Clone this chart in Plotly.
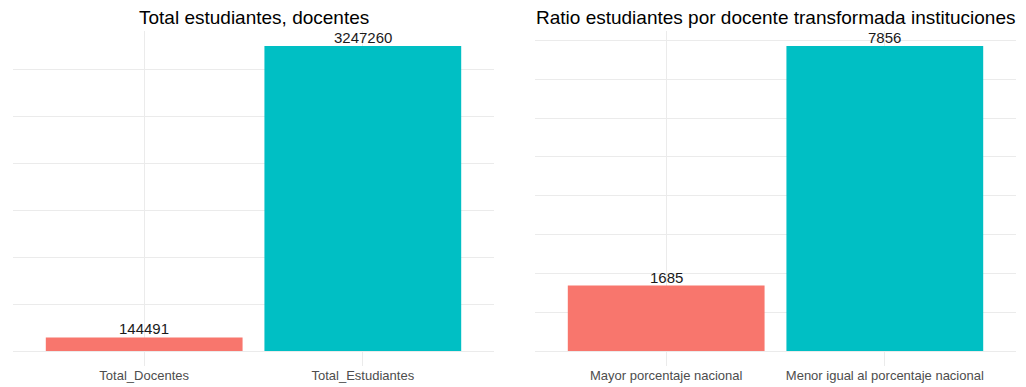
import plotly.graph_objects as go
from plotly.subplots import make_subplots

# Panel 1: totals
totales_cat = ["Total_Docentes", "Total_Estudiantes"]
totales_val = [144491, 3247260]

# Panel 2: ratio by group
ratio_cat = ["Mayor porcentaje nacional", "Menor igual al porcentaje nacional"]
ratio_val = [1685, 7856]

titulos = ["Total estudiantes, docentes",
           "Ratio estudiantes por docente transformada instituciones"]

colores = ["#F8766D", "#00BFC4"]
grid = "#EBEBEB"
FONT = "Liberation Sans, Arial, sans-serif"

fig = make_subplots(rows=1, cols=2)

for col, (cats, vals) in enumerate([(totales_cat, totales_val), (ratio_cat, ratio_val)], start=1):
    fig.add_trace(go.Bar(
        x=cats, y=vals, width=0.9,
        marker=dict(color=colores, line=dict(width=0)),
        showlegend=False,
    ), row=1, col=col)
    # value labels sitting just above each bar
    for c, v in zip(cats, vals):
        fig.add_annotation(x=c, y=v, text=str(v), showarrow=False,
                           xanchor="center", yanchor="bottom", yshift=-2,
                           font=dict(size=15, color="#1a1a1a", family=FONT),
                           row=1, col=col)

W, H = 1026, 387
def px_x(a, b):
    return [a / W, b / W]
def px_y(top, bottom):
    return [1 - bottom / H, 1 - top / H]

ydom = px_y(30.75, 366.25)
fig.update_layout(
    width=W, height=H,
    margin=dict(l=0, r=0, t=0, b=0),
    paper_bgcolor="white", plot_bgcolor="white",
    bargap=0.1,
    font=dict(family=FONT),
    xaxis=dict(domain=px_x(13, 494), range=[-0.6, 1.6]),
    xaxis2=dict(domain=px_x(535, 1016), range=[-0.6, 1.6]),
    yaxis=dict(domain=ydom, range=[-0.05 * max(totales_val), 1.05 * max(totales_val)], dtick=500000),
    yaxis2=dict(domain=ydom, range=[-0.05 * max(ratio_val), 1.05 * max(ratio_val)], dtick=1000),
)

for ax in ["xaxis", "xaxis2"]:
    fig.layout[ax].update(showgrid=True, gridcolor=grid, gridwidth=1, zeroline=False,
                          showline=False, ticks="", tickfont=dict(size=13, color="#4D4D4D"))
for ax in ["yaxis", "yaxis2"]:
    fig.layout[ax].update(showgrid=True, gridcolor=grid, gridwidth=1, zeroline=False,
                          showline=False, ticks="", showticklabels=False)

# Panel titles
centros = [(13 + 494) / 2 / W, (535 + 1016) / 2 / W]
for cx, t in zip(centros, titulos):
    fig.add_annotation(text=t, x=cx, y=1 - 17 / H, xref="paper", yref="paper",
                       xanchor="center", yanchor="middle", showarrow=False,
                       font=dict(size=19, color="black", family=FONT))

fig.write_html("out.html")
